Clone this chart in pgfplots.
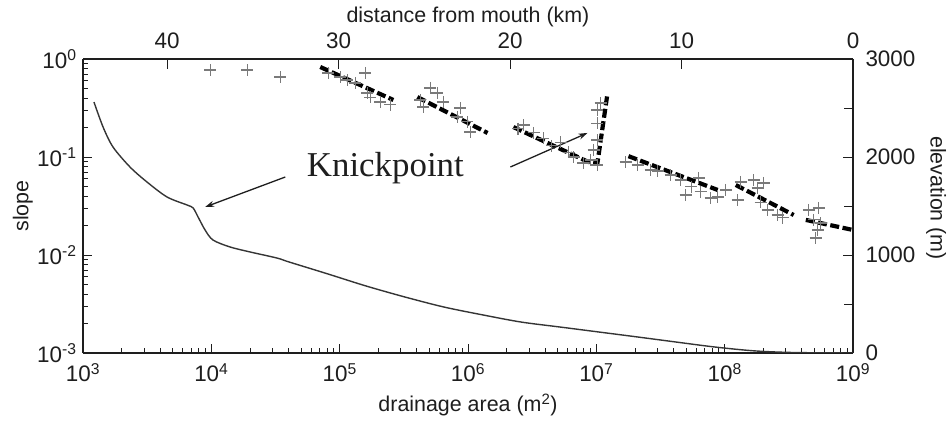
\documentclass[border=0pt]{standalone}
\usepackage{fontspec}
\setmainfont{Liberation Sans}
\newfontfamily\seriffont{Liberation Serif}
\usepackage{pgfplots}
\pgfplotsset{compat=1.18}
\usetikzlibrary{arrows.meta}
\definecolor{crossgray}{HTML}{7A7A7A}
\definecolor{ink}{HTML}{1E1E1E}
\begin{document}
\begin{tikzpicture}
\path[use as bounding box] (-83bp,-71bp) rectangle (866bp,353bp);
\begin{axis}[
  at={(0,0)}, anchor=south west, scale only axis, width=770bp, height=294bp,
  xmode=log, ymode=log, xmin=1e3, xmax=1e9, ymin=1e-3, ymax=1,
  axis x line*=bottom, axis y line*=left,
  axis line style={line width=1.3bp, color=ink},
  tick align=inside, major tick length=9bp, minor tick length=5bp,
  every tick/.style={line width=0.9bp, color=ink},
  xtick={1e3,1e4,1e5,1e6,1e7,1e8,1e9},
  xticklabels={10\textsuperscript{3},10\textsuperscript{4},10\textsuperscript{5},10\textsuperscript{6},10\textsuperscript{7},10\textsuperscript{8},10\textsuperscript{9}},
  minor xtick={2e3,3e3,4e3,5e3,6e3,7e3,8e3,9e3,2e4,3e4,4e4,5e4,6e4,7e4,8e4,9e4,2e5,3e5,4e5,5e5,6e5,7e5,8e5,9e5,2e6,3e6,4e6,5e6,6e6,7e6,8e6,9e6,2e7,3e7,4e7,5e7,6e7,7e7,8e7,9e7,2e8,3e8,4e8,5e8,6e8,7e8,8e8,9e8},
  ytick={1e-3,1e-2,1e-1,1},
  yticklabels={10\textsuperscript{-3},10\textsuperscript{-2},10\textsuperscript{-1},10\textsuperscript{0}},
  minor ytick={2e-3,3e-3,4e-3,5e-3,6e-3,7e-3,8e-3,9e-3,2e-2,3e-2,4e-2,5e-2,6e-2,7e-2,8e-2,9e-2,2e-1,3e-1,4e-1,5e-1,6e-1,7e-1,8e-1,9e-1},
  tick label style={font=\fontsize{22.5}{26}\selectfont, color=ink},
  xticklabel style={yshift=-7bp},
  yticklabel style={xshift=-3bp},
  label style={font=\fontsize{21.5}{25}\selectfont, color=ink},
  xlabel={drainage area (m\textsuperscript{2})},
  ylabel={slope},
  xlabel style={at={(axis description cs:0.5,-0.177)}, anchor=center},
  ylabel style={at={(axis description cs:-0.078,0.5)}, anchor=center},
]
% slope data
\addplot[only marks, mark=+, mark size=6bp, crossgray, mark options={line width=1.1bp}] coordinates {
(9.79e3,0.772) (1.90e4,0.772) (3.44e4,0.655)
(8.15e4,0.720) (1.01e5,0.655) (1.15e5,0.611) (1.58e5,0.720) (1.32e5,0.569) (1.64e5,0.450) (1.73e5,0.409) (2.07e5,0.364) (2.48e5,0.340)
(4.26e5,0.382) (5.09e5,0.506) (5.77e5,0.450) (4.49e5,0.324) (6.43e5,0.364) (8.73e5,0.316) (8.27e5,0.256) (9.89e5,0.228) (1.04e6,0.180)
(2.45e6,0.195) (2.71e6,0.212) (3.24e6,0.176) (3.87e6,0.156) (4.5e6,0.130) (5.26e6,0.142) (6.07e6,0.112) (6.64e6,0.100) (7.94e6,0.0869) (9.02e6,0.0932) (9.51e6,0.118) (1.02e7,0.149) (1.02e7,0.222) (1.02e7,0.302) (1.08e7,0.356) (1.02e7,0.0828)
(1.69e7,0.0889) (2.10e7,0.0828) (2.65e7,0.0737) (3.0e7,0.072) (3.79e7,0.0655) (4.54e7,0.0582) (4.96e7,0.0410) (5.5e7,0.050) (6.27e7,0.0611) (6.50e7,0.0440) (7.78e7,0.0382) (8.82e7,0.0391) (1.02e8,0.0461)
(1.26e8,0.0364) (1.33e8,0.0556) (1.68e8,0.0582) (1.81e8,0.0483) (2.01e8,0.0543) (1.91e8,0.0347) (2.16e8,0.0288) (2.59e8,0.0256) (2.83e8,0.0239)
(4.52e8,0.0288) (5.41e8,0.0302) (4.94e8,0.0228) (5.31e8,0.0180) (5.12e8,0.0149) (5.61e8,0.0212)
};
% fitted segments
\pgfplotsset{fitline/.style={black, line width=4.2bp, dash pattern=on 9bp off 3.5bp}}
\addplot[fitline] coordinates {(7.06e4,0.829) (2.62e5,0.382)};
\addplot[fitline] coordinates {(4.03e5,0.409) (1.42e6,0.176)};
\addplot[fitline] coordinates {(2.26e6,0.202) (8.69e6,0.0889) (1.02e7,0.0869) (1.22e7,0.44)};
\addplot[fitline] coordinates {(1.78e7,0.102) (8.82e7,0.0461)};
\addplot[fitline] coordinates {(1.22e8,0.0518) (3.45e8,0.0256)};
\addplot[fitline] coordinates {(4.29e8,0.0228) (1e9,0.0180)};
% annotation
\node[font=\seriffont\fontsize{35}{40}\selectfont, color=ink] at (axis cs:2.27e5,0.0772) {Knickpoint};
\draw[-{Stealth[length=9bp,width=6bp]}, line width=1.3bp, ink] (axis cs:3.77e4,0.0625) -- (axis cs:8.95e3,0.0309);
\draw[-{Stealth[length=9bp,width=6bp]}, line width=1.3bp, ink] (axis cs:2.14e6,0.0791) -- (axis cs:8.53e6,0.176);
\end{axis}
\begin{axis}[
  at={(0,0)}, anchor=south west, scale only axis, width=770bp, height=294bp,
  xmin=0, xmax=44.9, x dir=reverse, ymin=0, ymax=3000,
  axis x line*=top, axis y line*=right,
  axis line style={line width=1.3bp, color=ink},
  tick align=inside, major tick length=10bp,
  every tick/.style={line width=0.9bp, color=ink},
  xtick={0,10,20,30,40}, ytick={0,1000,2000,3000}, minor ytick={500,1500,2500}, minor tick length=9bp,
  scaled ticks=false,
  /pgf/number format/1000 sep={},
  /pgf/number format/assume math mode=true,
  tick label style={font=\fontsize{22.5}{26}\selectfont, color=ink},
  xticklabel style={yshift=7bp},
  yticklabel style={xshift=9bp},
  label style={font=\fontsize{21.5}{25}\selectfont, color=ink},
  xlabel={distance from mouth (km)},
  ylabel={elevation (m)},
  xlabel style={at={(axis description cs:0.5,1.143)}, anchor=center},
  ylabel style={at={(axis description cs:1.108,0.527)}, anchor=center, rotate=180},
]
\addplot[ink!90, line width=1.4bp, smooth, tension=0.5] coordinates {
(44.26,2561) (43.73,2306) (43.15,2102) (42.16,1898) (41.17,1745) (40.00,1592) (38.83,1510) (38.48,1480) (38.19,1388) (37.78,1255) (37.32,1153) (36.33,1082) (35.16,1031) (33.59,969) (32.89,929) (30.61,806) (28.40,684) (26.12,571) (23.85,469) (21.57,388) (19.36,316) (17.08,265) (14.81,214) (12.54,163) (10.32,112) (8.05,61) (5.77,22) (3.50,5) (0,0)
};
\end{axis}
\end{tikzpicture}
\end{document}
